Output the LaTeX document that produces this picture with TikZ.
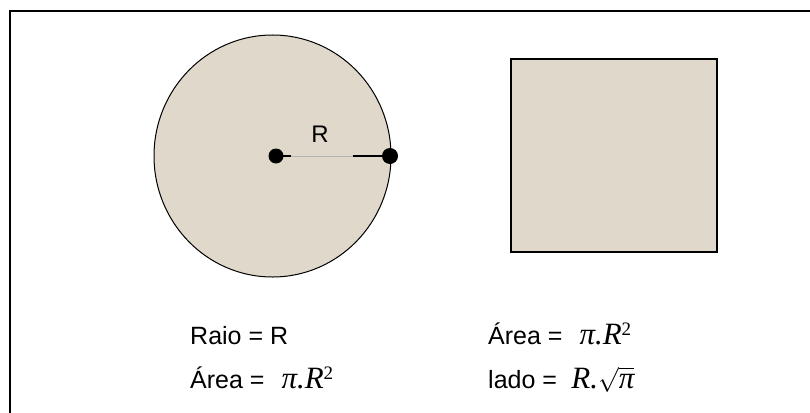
\documentclass[tikz,border=0pt]{standalone}
\usepackage{fontspec}
\setmainfont{Liberation Sans}
\newfontfamily\tnr{Liberation Serif}
\usetikzlibrary{shapes.geometric}
\definecolor{paper}{RGB}{224,216,202}
\newcommand{\mthfont}{\fontsize{31}{34}\selectfont\tnr\itshape}
\newcommand{\supfont}{\fontsize{19}{20}\selectfont\tnr}
\begin{document}
\begin{tikzpicture}[x=1pt,y=-1pt,
  shapefill/.style={fill=paper,draw=black},
  dotnode/.style={circle,fill=black,inner sep=0pt,minimum size=15pt},
  txt/.style={inner sep=0pt,anchor=base west,font=\fontsize{25}{30}\selectfont}]
\useasboundingbox (0,0) rectangle (810,412);
% frame
\draw[line width=2pt] (10,420) -- (10,11.5) -- (820,11.5);
% circle
\node[ellipse,shapefill,line width=1pt,minimum width=237pt,minimum height=242pt,inner sep=0pt] (circ) at (272.5,156) {};
% square
\node[rectangle,shapefill,line width=2pt,minimum width=206pt,minimum height=193pt,inner sep=0pt] (sq) at (614,155.5) {};
% radius
\node[dotnode] (cdot) at (276,156) {};
\node[dotnode,minimum size=16pt] (rdot) at (390,156) {};
\coordinate (a1) at (291,156);
\coordinate (a2) at (353,156);
\draw[gray!60,line width=0.5pt] (cdot) -- (rdot);
\draw[line width=2.5pt] (cdot.center) -- (a1);
\draw[line width=2.5pt] (a2) -- (rdot.center);
\node[inner sep=0pt,font=\fontsize{24}{28}\selectfont] (rlab) at (320,134) {R};
% texts
\node[txt] (t1) at (190,344) {Raio = R};
\node[txt] (t2) at (190,388) {Área = \hspace{0.4em}{\mthfont π.R}\raisebox{9pt}{\supfont 2}};
\node[txt] (t3) at (488,344) {Área = \hspace{0.4em}{\mthfont π.R}\raisebox{9pt}{\supfont 2}};
\node[txt] (t4) at (488,388) {lado = \hspace{0.3em}{\mthfont R.}\smash{$\sqrt{\hbox{\mthfont π}}$}};
\end{tikzpicture}
\end{document}
